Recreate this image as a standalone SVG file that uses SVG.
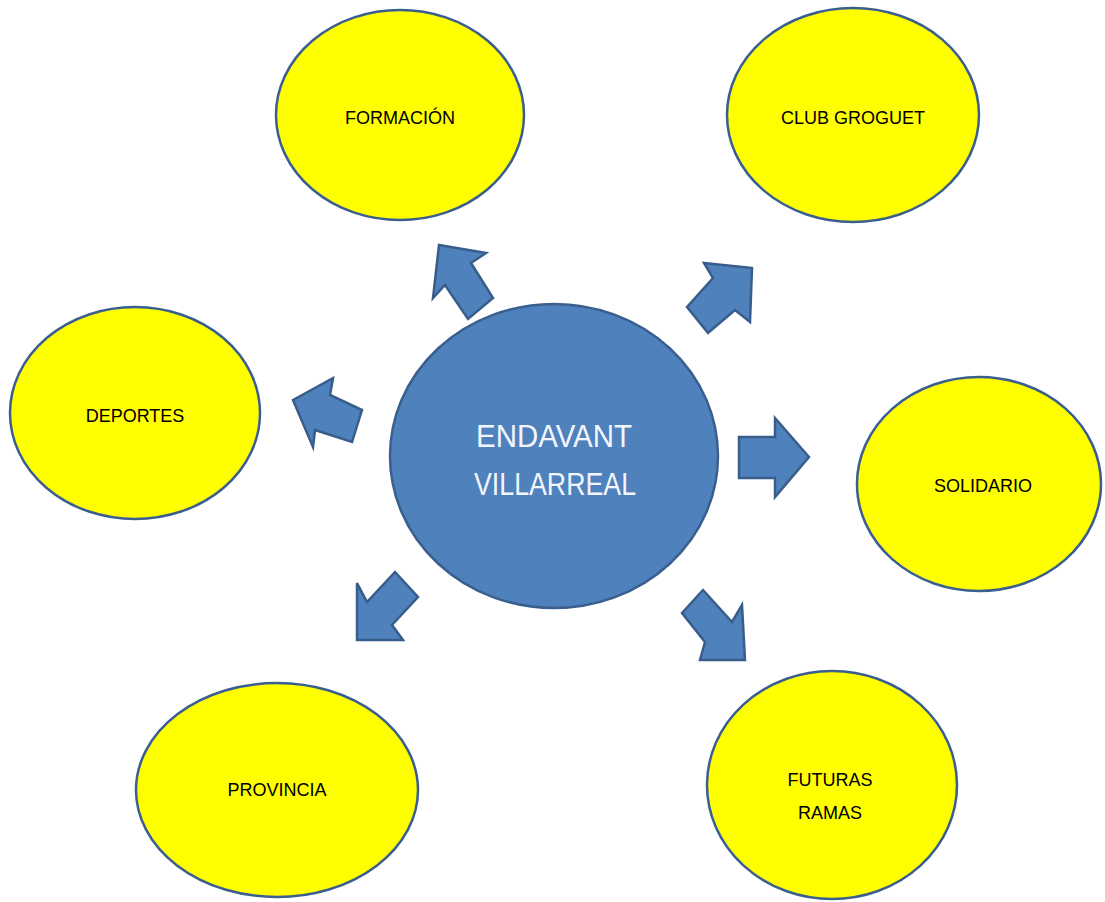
<svg xmlns="http://www.w3.org/2000/svg" width="1105" height="902" viewBox="0 0 1105 902">
<style>
.n{fill:#ffff00;stroke:#3a5f8f;stroke-width:2.5}
.c{fill:#4f81bd;stroke:#3a5f8f;stroke-width:2.5}
.a{fill:#4f81bd;stroke:#385d8a;stroke-width:2.5;stroke-linejoin:miter}
.t{font-family:"Liberation Sans",Arial,sans-serif;font-size:18px;fill:#000;text-anchor:middle}
.ct{font-family:"Liberation Sans",Arial,sans-serif;font-size:32px;fill:#f2f6fc;text-anchor:middle}
</style>
<rect width="1105" height="902" fill="#fff"/>
<g id="connectors">
<polygon class="a" points="439,245 486,253 471,263 493,298 468,319 445,285 433,298"/>
<polygon class="a" points="752,268 704,263 713,278 687,307 708,333 735,310 750,322"/>
<polygon class="a" points="293,400 333,378 330,395 362,410 352,442 315,430 313,447"/>
<polygon class="a" points="809,457 775,418 775,437 739,437 739,478 775,478 775,497"/>
<polygon class="a" points="357,640 357,583 367,602 395,572 418,597 392,625 403,640"/>
<polygon class="a" points="745,660 742,605 732,622 703,590 682,613 705,642 700,660"/>
</g>
<g id="center">
<ellipse class="c" cx="554" cy="456" rx="164" ry="152"/>
<text class="ct" x="554" y="447" textLength="156" lengthAdjust="spacingAndGlyphs">ENDAVANT</text>
<text class="ct" x="555" y="495" textLength="162" lengthAdjust="spacingAndGlyphs">VILLARREAL</text>
</g>
<g id="formacion">
<ellipse class="n" cx="400" cy="115" rx="124" ry="105"/>
<text class="t" x="400" y="124">FORMACIÓN</text>
</g>
<g id="club-groguet">
<ellipse class="n" cx="853" cy="115" rx="126" ry="107"/>
<text class="t" x="853" y="124">CLUB GROGUET</text>
</g>
<g id="deportes">
<ellipse class="n" cx="135" cy="413" rx="125" ry="106"/>
<text class="t" x="135" y="422">DEPORTES</text>
</g>
<g id="solidario">
<ellipse class="n" cx="979" cy="484" rx="122" ry="107"/>
<text class="t" x="983" y="492">SOLIDARIO</text>
</g>
<g id="provincia">
<ellipse class="n" cx="277" cy="790" rx="141" ry="107"/>
<text class="t" x="277" y="796">PROVINCIA</text>
</g>
<g id="futuras-ramas">
<ellipse class="n" cx="832" cy="785" rx="125" ry="114"/>
<text class="t" x="830" y="786">FUTURAS</text>
<text class="t" x="830" y="819">RAMAS</text>
</g>
</svg>
